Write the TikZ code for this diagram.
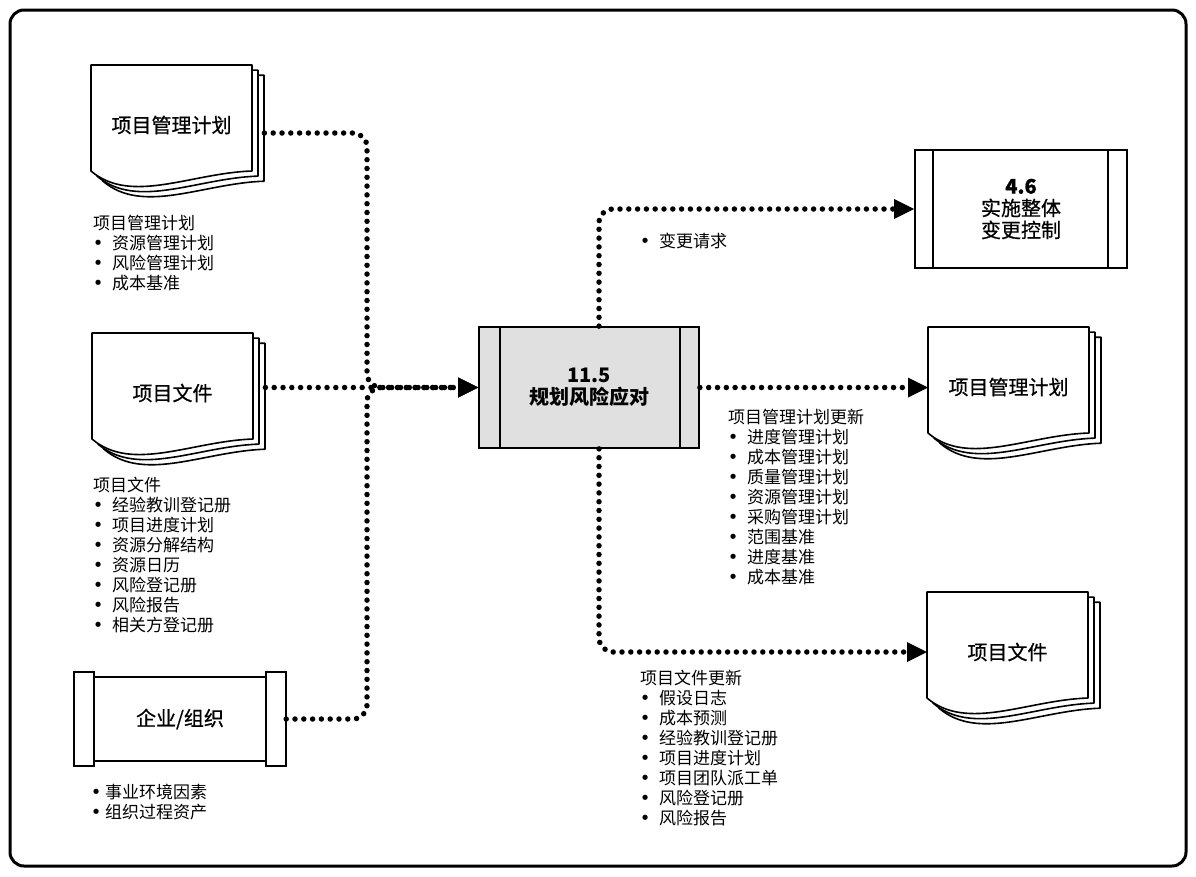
\documentclass[tikz,border=0pt]{standalone}
\usepackage{fontspec}
\setmainfont{Noto Sans CJK SC}
\newfontfamily\bulletfont{DejaVu Sans}
\newfontfamily\cjkmed[FakeBold=0.7]{Noto Sans CJK SC}
\usetikzlibrary{arrows.meta,calc}
\newcommand\itm{\makebox[10pt][c]{\bulletfont\fontsize{18}{20}\selectfont •}\hspace{9pt}}
\newcommand\itmb{\makebox[6pt][c]{\bulletfont\fontsize{18}{20}\selectfont •}\hspace{6pt}}
\newcommand\docstack[5]{%
  \foreach \o in {12,6,0}{%
    \begin{scope}[shift={(#2+\o,#3+0.85*\o)}]
      \draw[sheet] (0,0) -- (161,0) -- (161,106) .. controls (100,108) and (40,140) .. (0,106) -- cycle;
    \end{scope}}
  \node[inner sep=0pt, minimum width=173pt, minimum height=40pt, anchor=west] (#1) at (#2,#4) {};
  \node[doclabel] (#1t) at (#2+80.5,#3+60) {#5};
}
\tikzset{
  frame/.style={draw, line width=3pt, rounded corners=14pt},
  sheet/.style={draw, fill=white, line width=1.6pt, line join=round},
  boxline/.style={line width=1.8pt},
  conn/.style={line width=5.5pt, dash pattern=on 0pt off 8.8pt, line cap=round, rounded corners=14pt,
    -{Triangle[length=20pt,width=20pt,line width=0pt]}},
  doclabel/.style={font=\cjkmed\fontsize{20}{24}\selectfont, inner sep=0pt},
  boxlabel/.style={font=\fontsize{20}{22}\selectfont, align=center, inner sep=0pt},
  list/.style={font=\fontsize{17}{20}\selectfont, inner sep=0pt, anchor=base west, text width=230pt, align=left},
}
\begin{document}
\begin{tikzpicture}[x=1pt,y=-1pt]
\useasboundingbox (0,0) rectangle (1196,876);
\fill[white] (0,0) rectangle (1196,876);
\draw[frame] (10,10) rectangle (1186,866);

% documents
\docstack{pmp}{91}{65}{133}{项目管理计划}
\docstack{pd}{92}{333}{387.5}{项目文件}
\docstack{pmpo}{928}{327}{387.5}{项目管理计划}
\docstack{pdo}{927}{592}{652}{项目文件}

% enterprise / organization
\node[inner sep=0pt, minimum width=212pt, minimum height=94pt] (org) at (180,719) {};
\draw[boxline, fill=white] ([xshift=20pt,yshift=-5pt]org.north west) rectangle ([xshift=-20pt,yshift=5pt]org.south east);
\draw[boxline, fill=white] (org.north west) rectangle ([xshift=20pt]org.south west);
\draw[boxline, fill=white] ([xshift=-20pt]org.north east) rectangle (org.south east);
\node[doclabel] (orgt) at (org.center) {企业/组织};

% main process
\node[boxlabel, draw, boxline, fill={rgb,255:red,224;green,224;blue,224}, minimum width=220pt, minimum height=121pt] (proc) at (589,387.5) {\bfseries 11.5\\\bfseries 规划风险应对};
\draw[boxline] ([xshift=22pt]proc.north west) -- ([xshift=22pt]proc.south west);
\draw[boxline] ([xshift=-20pt]proc.north east) -- ([xshift=-20pt]proc.south east);

% integrated change control
\node[boxlabel, font=\cjkmed\fontsize{20}{22}\selectfont, draw, boxline, fill=white, minimum width=212pt, minimum height=118pt] (icc) at (1021,209) {\bfseries 4.6\\实施整体\\变更控制};
\draw[boxline] ([xshift=19pt]icc.north west) -- ([xshift=19pt]icc.south west);
\draw[boxline] ([xshift=-20pt]icc.north east) -- ([xshift=-20pt]icc.south east);

% connectors
\coordinate (jx) at (367,0);
\draw[conn] (pmp.east) -| (jx |- proc.west) -- (proc.west);
\draw[conn] (org.east) -| (jx |- proc.west) -- (proc.west);
\draw[conn] (pd.east) -- (proc.west);
\draw[conn] ([xshift=10pt]proc.north) |- (icc.west);
\draw[conn] (proc.east) -- (pmpo.west);
\draw[conn] ([xshift=10pt]proc.south) |- (pdo.west);

% lists
\node[list] (l1) at (93,229.5) {项目管理计划\\\itm 资源管理计划\\\itm 风险管理计划\\\itm 成本基准};
\node[list] (l2) at (93,491.5) {项目文件\\\itm 经验教训登记册\\\itm 项目进度计划\\\itm 资源分解结构\\\itm 资源日历\\\itm 风险登记册\\\itm 风险报告\\\itm 相关方登记册};
\node[list] (l3) at (93,798.5) {\itmb 事业环境因素\\\itmb 组织过程资产};
\node[list] (l4) at (640,247.5) {\itm 变更请求};
\node[list] (l5) at (728,423.5) {项目管理计划更新\\\itm 进度管理计划\\\itm 成本管理计划\\\itm 质量管理计划\\\itm 资源管理计划\\\itm 采购管理计划\\\itm 范围基准\\\itm 进度基准\\\itm 成本基准};
\node[list] (l6) at (640,684.5) {项目文件更新\\\itm 假设日志\\\itm 成本预测\\\itm 经验教训登记册\\\itm 项目进度计划\\\itm 项目团队派工单\\\itm 风险登记册\\\itm 风险报告};
\end{tikzpicture}
\end{document}
